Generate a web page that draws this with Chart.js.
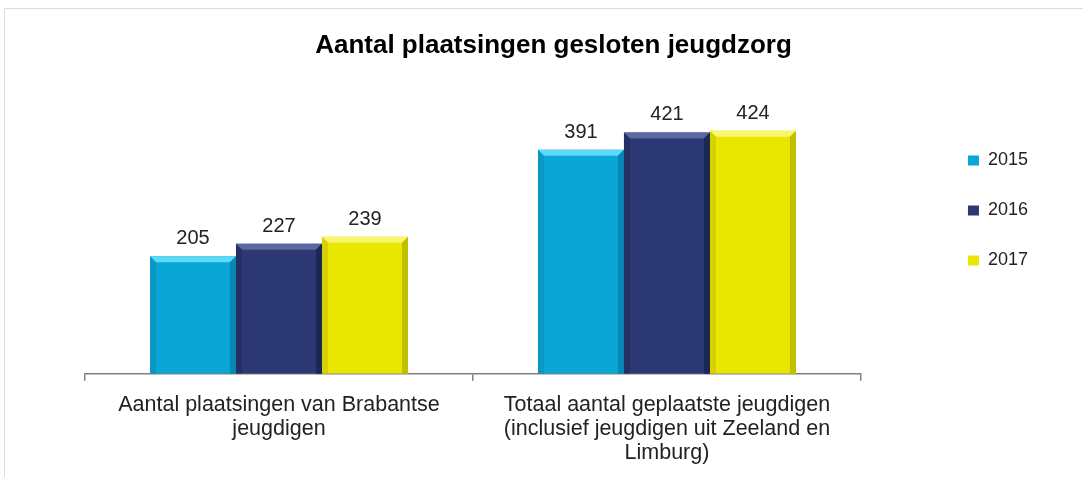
<!DOCTYPE html>
<html>
<head>
<meta charset="utf-8">
<script src="https://cdn.jsdelivr.net/npm/chart.js@4"></script>
<style>
  body { margin: 0; background: #fff; }
  #wrap { position: relative; width: 1083px; height: 477px; }
  #frame { position: absolute; left: 4px; top: 8px; width: 1100px; height: 500px;
           border-top: 1px solid #dcdcdc; border-left: 1px solid #dcdcdc; pointer-events: none; }
  canvas { position: absolute; left: 0; top: 0; }
</style>
</head>
<body>
<div id="wrap">
  <div id="frame"></div>
  <canvas id="myChart" width="1083" height="477"></canvas>
</div>
<script>
// DATA -------------------------------------------------------------------
const categories = [
  ['Aantal plaatsingen van Brabantse', 'jeugdigen'],
  ['Totaal aantal geplaatste jeugdigen', '(inclusief jeugdigen uit Zeeland en', 'Limburg)']
];
const years = ['2015', '2016', '2017'];
const values2015 = [205, 391];
const values2016 = [227, 421];
const values2017 = [239, 424];

// STYLE ------------------------------------------------------------------
const barColors = ['#0AA6D6', '#2B3873', '#E9E600'];
const lightEdge = ['#5ED9F6', '#5A67A0', '#F8F66E'];
const darkEdge = ['#0788B2', '#1D2756', '#C2BE00'];
const fontName = '"Liberation Sans", Arial, sans-serif';
const legendGap = 75;

const ctx = document.getElementById('myChart');

// bevel effect on the bars
const bevelBars = {
  id: 'bevelBars',
  afterDatasetsDraw(chart) {
    const c = chart.ctx;
    chart.data.datasets.forEach((ds, i) => {
      chart.getDatasetMeta(i).data.forEach(bar => {
        const l = bar.x - bar.width / 2, r = bar.x + bar.width / 2;
        const t = bar.y, b = bar.base;
        const k = 6;
        c.save();
        c.fillStyle = lightEdge[i];
        c.beginPath();
        c.moveTo(l, t); c.lineTo(r, t); c.lineTo(r - k, t + k); c.lineTo(l + k, t + k);
        c.closePath(); c.fill();
        c.fillStyle = darkEdge[i];
        c.beginPath();
        c.moveTo(r, t); c.lineTo(r, b); c.lineTo(r - k, b); c.lineTo(r - k, t + k);
        c.closePath(); c.fill();
        c.globalAlpha = 0.5;
        c.beginPath();
        c.moveTo(l, t); c.lineTo(l + k, t + k); c.lineTo(l + k, b); c.lineTo(l, b);
        c.closePath(); c.fill();
        c.restore();
      });
    });
  }
};

// values above the bars
const barValues = {
  id: 'barValues',
  afterDatasetsDraw(chart) {
    const c = chart.ctx;
    c.save();
    c.font = '20px ' + fontName;
    c.fillStyle = '#222';
    c.textAlign = 'center';
    c.textBaseline = 'alphabetic';
    chart.data.datasets.forEach((ds, i) => {
      chart.getDatasetMeta(i).data.forEach((bar, j) => {
        c.fillText(ds.data[j], bar.x, bar.y - 12);
      });
    });
    c.restore();
  }
};

// legend a bit away from the plot
const legendShift = {
  id: 'legendShift',
  afterInit(chart) {
    const legend = chart.legend;
    const fit = legend.fit;
    legend.fit = function () {
      fit.call(this);
      this.width += legendGap;
    };
  },
  afterLayout(chart) {
    chart.legend.left += legendGap;
    chart.legend.top -= 28;
    chart.legend.bottom -= 28;
  }
};

new Chart(ctx, {
  type: 'bar',
  data: {
    labels: categories,
    datasets: [
      { label: years[0], data: values2015, backgroundColor: barColors[0] },
      { label: years[1], data: values2016, backgroundColor: barColors[1] },
      { label: years[2], data: values2017, backgroundColor: barColors[2] }
    ]
  },
  options: {
    responsive: false,
    animation: false,
    layout: { padding: { left: 69, right: 45, top: 0, bottom: 0 } },
    datasets: {
      bar: { categoryPercentage: 0.665, barPercentage: 1, borderWidth: 0 }
    },
    scales: {
      x: {
        grid: { drawOnChartArea: false, tickLength: 7, color: '#808080', lineWidth: 1.5 },
        border: { color: '#808080', width: 1.5 },
        ticks: { color: '#222', padding: 12, font: { family: fontName, size: 21.5, lineHeight: 1.12 } }
      },
      y: {
        min: 0,
        max: 500,
        grid: { display: false },
        border: { display: false },
        ticks: { display: false },
        afterFit(scale) { scale.width = 16; }
      }
    },
    plugins: {
      title: {
        display: true,
        text: 'Aantal plaatsingen gesloten jeugdzorg',
        color: '#000',
        font: { family: fontName, size: 26, weight: 'bold', lineHeight: 1.2 },
        padding: { top: 30, bottom: 26 }
      },
      legend: {
        position: 'right',
        labels: {
          boxWidth: 11,
          boxHeight: 10,
          padding: 32,
          color: '#222',
          font: { family: fontName, size: 18 }
        }
      },
      tooltip: { enabled: false }
    }
  },
  plugins: [bevelBars, barValues, legendShift]
});
</script>
</body>
</html>
